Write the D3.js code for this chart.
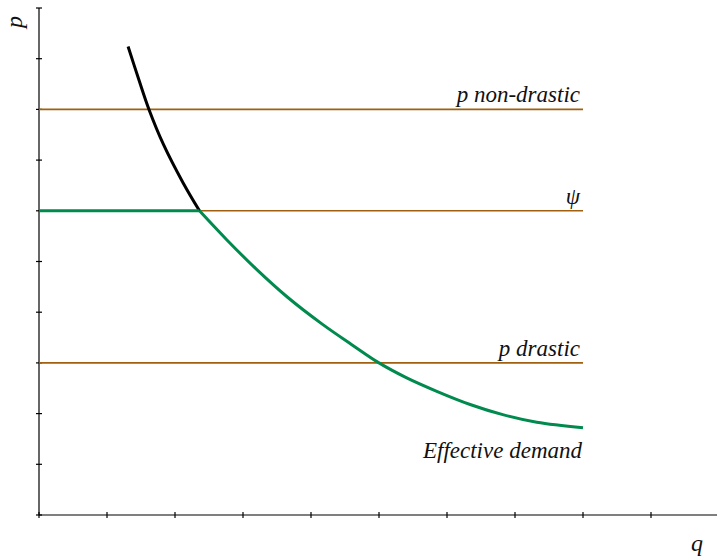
<!DOCTYPE html>
<html>
<head>
<meta charset="utf-8">
<script src="https://cdn.jsdelivr.net/npm/d3@7"></script>
<style>
  html, body { margin: 0; padding: 0; background: #fff; }
  svg { display: block; }
  text { font-family: "Liberation Serif", "Times New Roman", serif; font-style: italic; fill: #111; }
</style>
</head>
<body>
<div id="chart"></div>
<script>
// --- data --------------------------------------------------------------------
const xTicks = [0, 1, 2, 3, 4, 5, 6, 7, 8, 9];
const yTicks = [0, 1, 2, 3, 4, 5, 6, 7, 8, 9, 10];

// horizontal price levels
const levelNames  = ['p non-drastic', 'ψ', 'p drastic'];
const levelValues = [8, 6, 3];
const levelEnd    = 8;

// demand above ψ (black)
const upperQ = [1.31, 1.47, 1.62, 1.83, 2.12, 2.36];
const upperP = [9.24, 8.58, 7.99, 7.31, 6.55, 6.0];

// effective demand (green): flat at ψ, then the demand curve
const flatQ = [0, 2.36];
const flatP = [6, 6];
const effQ = [2.36, 2.76, 3.18, 3.66, 4.16, 4.6, 5.0, 5.4, 5.85, 6.34, 6.82, 7.32, 8.0];
const effP = [6.0, 5.43, 4.87, 4.29, 3.77, 3.36, 3.0, 2.71, 2.44, 2.18, 1.98, 1.83, 1.72];

// --- layout ------------------------------------------------------------------
const W = 717, H = 557;
const BROWN = '#a0600f', GREEN = '#008a4e';

const svg = d3.select('#chart').append('svg')
  .attr('width', W).attr('height', H);

const x = d3.scaleLinear().domain([0, 10]).range([39, 719]);
const y = d3.scaleLinear().domain([0, 10]).range([515, 8]);

/* axes ---------------------------------------------------------------------- */
const axG = svg.append('g').attr('stroke', '#000').attr('stroke-width', 1.2);
axG.append('line')
  .attr('x1', x(0)).attr('x2', W).attr('y1', y(0)).attr('y2', y(0));
axG.append('line')
  .attr('x1', x(0)).attr('x2', x(0)).attr('y1', y(0)).attr('y2', y(10));

axG.selectAll('line.xt').data(xTicks).join('line').attr('class', 'xt')
  .attr('x1', d => x(d)).attr('x2', d => x(d))
  .attr('y1', y(0) - 3).attr('y2', y(0) + 3);
axG.selectAll('line.yt').data(yTicks).join('line').attr('class', 'yt')
  .attr('x1', x(0) - 3).attr('x2', x(0) + 3)
  .attr('y1', d => y(d)).attr('y2', d => y(d));

svg.append('text')
  .attr('transform', 'translate(22,22) rotate(-90)')
  .attr('text-anchor', 'middle')
  .attr('font-size', 24).text('p');
svg.append('text')
  .attr('x', 697).attr('y', 551)
  .attr('text-anchor', 'middle')
  .attr('font-size', 24).text('q');

/* horizontal levels -------------------------------------------------------- */
svg.append('g').selectAll('line')
  .data(levelValues).join('line')
    .attr('x1', x(0)).attr('x2', x(levelEnd))
    .attr('y1', d => y(d)).attr('y2', d => y(d))
    .attr('stroke', BROWN).attr('stroke-width', 1.6);

/* curves -------------------------------------------------------------------- */
const line = d3.line().x(d => x(d[0])).y(d => y(d[1])).curve(d3.curveCatmullRom);

svg.append('path')
  .datum(d3.zip(upperQ, upperP))
  .attr('d', line)
  .attr('fill', 'none').attr('stroke', '#000').attr('stroke-width', 3);

svg.append('path')
  .datum(d3.zip(flatQ, flatP))
  .attr('d', line)
  .attr('fill', 'none').attr('stroke', GREEN).attr('stroke-width', 3);

svg.append('path')
  .datum(d3.zip(effQ, effP))
  .attr('d', line)
  .attr('fill', 'none').attr('stroke', GREEN).attr('stroke-width', 3)
  .attr('stroke-linejoin', 'round');

/* labels -------------------------------------------------------------------- */
svg.append('g').selectAll('text')
  .data(levelNames).join('text')
    .attr('x', x(levelEnd) - 3)
    .attr('y', (d, i) => y(levelValues[i]) - 7)
    .attr('text-anchor', 'end')
    .attr('font-size', 23)
    .text(d => d);

svg.append('text')
  .attr('x', x(levelEnd) - 1).attr('y', 458)
  .attr('text-anchor', 'end')
  .attr('font-size', 23)
  .text('Effective demand');
</script>
</body>
</html>
